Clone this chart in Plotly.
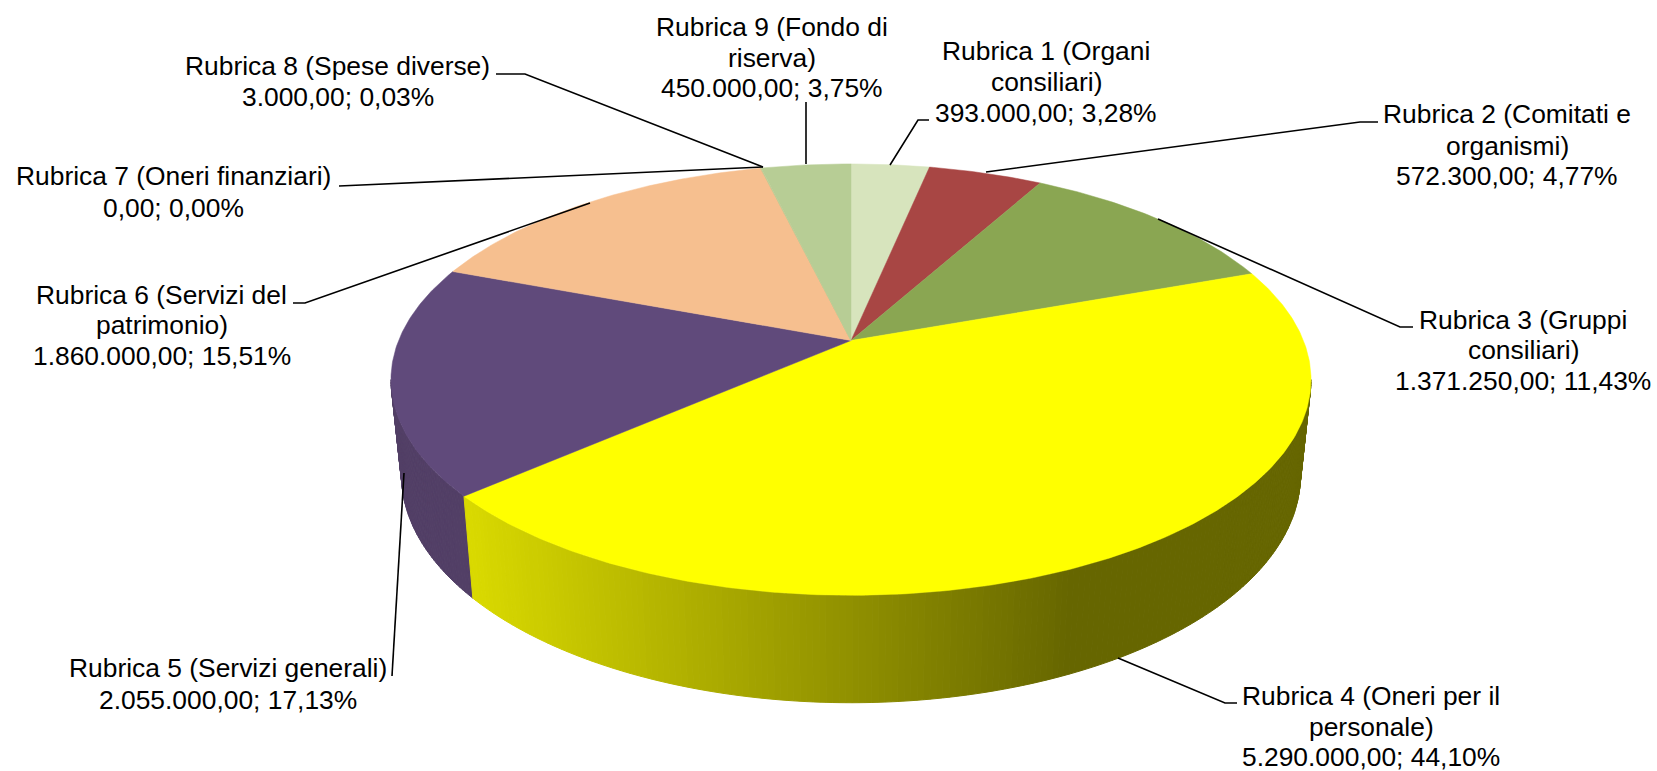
import numpy as np
import plotly.graph_objects as go

# ---- data ----
CATEGORIES = [
    "Rubrica 1 (Organi consiliari)",
    "Rubrica 2 (Comitati e organismi)",
    "Rubrica 3 (Gruppi consiliari)",
    "Rubrica 4 (Oneri per il personale)",
    "Rubrica 5 (Servizi generali)",
    "Rubrica 6 (Servizi del patrimonio)",
    "Rubrica 7 (Oneri finanziari)",
    "Rubrica 8 (Spese diverse)",
    "Rubrica 9 (Fondo di riserva)",
]
VALUES = [393000.0, 572300.0, 1371250.0, 5290000.0, 2055000.0, 1860000.0, 0.0, 3000.0, 450000.0]

# ---- styles and layout ----
TOP_COLORS = ["#d7e4bd", "#a84644", "#8aa652", "#ffff00", "#604a7b", "#f6bf8f", "#f6bf8f", "#b7cd95", "#b7cd95"]
PURPLE_WALL = "#523f66"
FONT = "Liberation Sans"
FONT_SIZE = 26.4
W, H = 1657, 771

# line breaks of the category names inside the labels
BREAK_AFTER = ["(Organi", "(Comitati e", "(Gruppi", "per il", None, "Servizi del", None, None, "Fondo di"]
# centre x, and y of each text line
LABEL_X = [1046, 1507, 1523, 1371, 227.5, 161.5, 173, 337.5, 772]
LABEL_Y = [
    [51, 82, 113], [114, 146, 176], [320, 350, 381], [696, 727, 757],
    [668, 700], [295, 325, 356], [176, 208], [66, 97], [27, 58, 88],
]
LEADERS = [
    [(929, 120), (918, 120), (890, 165)],
    [(1378, 122), (1360, 122), (986, 172)],
    [(1413, 327), (1400, 327), (1158, 219)],
    [(1237, 703), (1225, 703), (1118, 658)],
    [(392, 676), (404, 473)],
    [(293, 303), (305, 303), (590, 203)],
    [(339, 186), (763, 167)],
    [(496, 74), (525, 74), (763, 167)],
    [(806, 102), (806, 164)],
]

# perspective projection of the disc faces
CX = 851.0
TOP = dict(a=452.4, b=208.6, p=0.1813, cx=CX, cy=340.5)
BOT = dict(a=442.0, b=220.0, p=0.1813, cx=CX, cy=434.0)


def project(theta, g):
    u, v = np.sin(theta), np.cos(theta)
    w = 1 + g["p"] * v
    return g["cx"] + g["a"] * u / w, g["cy"] - g["b"] * v / w


total = sum(VALUES)
edges = np.concatenate([[0], np.cumsum(VALUES)]) / total * 2 * np.pi
# angles where the rim of the disc turns from hidden to visible
RIM_RIGHT = float(np.arccos(-TOP["p"]))
RIM_LEFT = 2 * np.pi - RIM_RIGHT

fig = go.Figure()


def wall_color(x):
    k = np.clip((x - 473) / (1070 - 473), 0, 1)
    c = int(round(217 + (102 - 217) * k))
    return f"rgb({c},{c},0)"


def add_wall(t0, t1, color=None, step=0.012):
    n = max(2, int((t1 - t0) / step))
    ts = np.linspace(t0, t1, n + 1)
    for a, b in zip(ts[:-1], ts[1:]):
        xa, ya = project(a, TOP)
        xb, yb = project(b, TOP)
        xc, yc = project(b, BOT)
        xd, yd = project(a, BOT)
        col = color or wall_color((xa + xb + xc + xd) / 4)
        fig.add_trace(go.Scatter(
            x=[xa, xb, xc, xd, xa], y=[ya, yb, yc, yd, ya], mode="lines", fill="toself",
            fillcolor=col, line=dict(color=col, width=1), hoverinfo="skip", showlegend=False))


# side walls: purple (category 5), then yellow (category 4) in front of it
add_wall(edges[4], min(edges[5], RIM_LEFT), PURPLE_WALL)
add_wall(max(edges[3], RIM_RIGHT), edges[4])

# top face slices
for i, (name, val) in enumerate(zip(CATEGORIES, VALUES)):
    t0, t1 = edges[i], edges[i + 1]
    ts = np.linspace(t0, t1, max(2, int((t1 - t0) / 0.01)))
    xs, ys = project(ts, TOP)
    fig.add_trace(go.Scatter(
        x=np.concatenate([[TOP["cx"]], xs, [TOP["cx"]]]),
        y=np.concatenate([[TOP["cy"]], ys, [TOP["cy"]]]),
        mode="lines", fill="toself", fillcolor=TOP_COLORS[i],
        line=dict(color=TOP_COLORS[i], width=0.5),
        name=name, showlegend=False, hoverinfo="name"))


def it_number(v):
    return f"{v:,.2f}".replace(",", "#").replace(".", ",").replace("#", ".")


annotations = []
for i, (name, val) in enumerate(zip(CATEGORIES, VALUES)):
    if BREAK_AFTER[i]:
        k = name.index(BREAK_AFTER[i]) + len(BREAK_AFTER[i])
        lines = [name[:k], name[k + 1:]]
    else:
        lines = [name]
    pct = f"{val / total * 100:.2f}".replace(".", ",")
    lines.append(f"{it_number(val)}; {pct}%")
    for text, y in zip(lines, LABEL_Y[i]):
        annotations.append(dict(x=LABEL_X[i], y=y, xref="x", yref="y", text=text, showarrow=False,
                                xanchor="center", yanchor="middle",
                                font=dict(family=FONT, size=FONT_SIZE, color="black")))

shapes = []
for pts in LEADERS:
    path = "M " + " L ".join(f"{x},{y}" for x, y in pts)
    shapes.append(dict(type="path", path=path, xref="x", yref="y",
                       line=dict(color="black", width=1.6)))

fig.update_layout(
    width=W, height=H, margin=dict(l=0, r=0, t=0, b=0),
    paper_bgcolor="white", plot_bgcolor="white",
    xaxis=dict(range=[0, W], visible=False, fixedrange=True),
    yaxis=dict(range=[H, 0], visible=False, fixedrange=True),
    annotations=annotations, shapes=shapes, showlegend=False,
)
fig.write_html("out.html", config={"displayModeBar": False},
               post_script="document.body.style.margin='0';document.body.style.overflow='hidden';")
